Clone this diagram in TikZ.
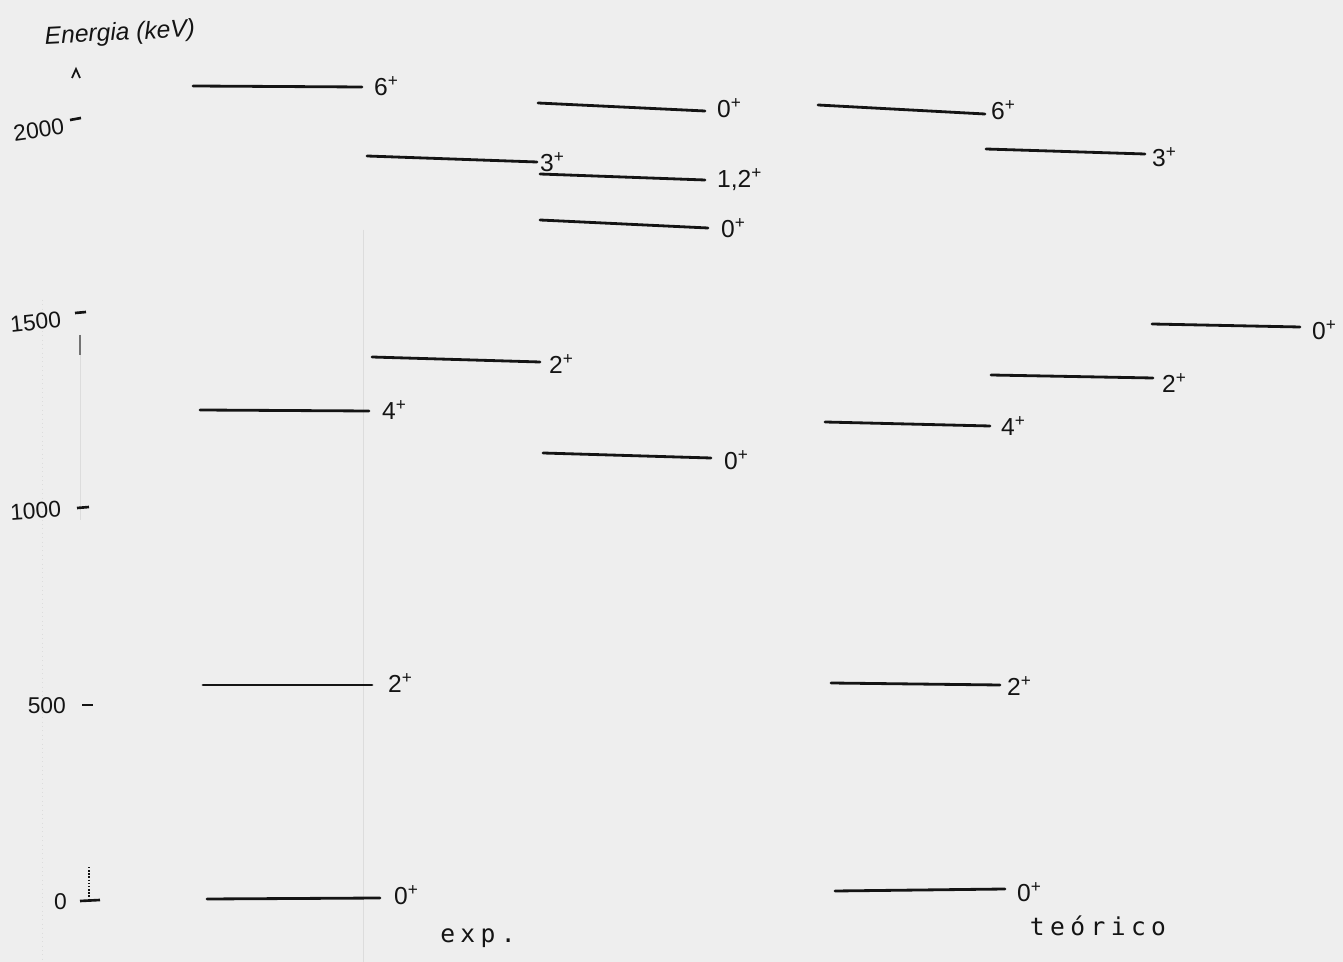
\documentclass[tikz,border=0pt]{standalone}
\usepackage{fontspec}
\setmainfont{Liberation Sans}
\newfontfamily\typefont[LetterSpace=22]{DejaVu Sans Mono}
\usepackage{xcolor}
\definecolor{paper}{RGB}{238,238,238}
\definecolor{ink}{RGB}{20,20,20}
\definecolor{fold}{RGB}{220,220,220}
\tikzset{
  lvl/.style ={draw=ink, line width=1.6pt, line cap=round},
  tck/.style ={draw=ink, line width=1.5pt},
  fnt/.style ={draw=fold, line width=0.5pt},
  spin/.style={font=\fontsize{14}{16}\selectfont, text=ink, inner sep=1pt, anchor=west},
  enr/.style ={font=\fontsize{13}{15}\selectfont, text=ink, inner sep=1pt, anchor=east},
  col/.style ={font=\fontsize{14}{16}\typefont, text=ink, inner sep=1pt},
}
\begin{document}
\begin{tikzpicture}[x=0.02cm,y=-0.02cm]
  \fill[paper] (0,0) rectangle (1343,962);
  \useasboundingbox (0,0) rectangle (1343,962);
  % faint marks of the sheet
  \draw[fnt,dotted] (42,300) -- (42,962);
  \draw[fnt] (80,335) -- (80,520);
  \draw[fnt] (363,230) -- (363,962);
  \draw[draw=black!55,line width=0.7pt] (80,335) -- (80,355);
  % energy axis
  \node[font=\fontsize{14}{16}\selectfont\itshape,text=ink,rotate=3] (title) at (120,34) {Energia (keV)};
  \draw[draw=ink,line width=1pt] (72,78) -- (76,69) -- (80,78);
  \node[enr,rotate=8] (t2000) at (66,126) {2000};
  \draw[tck] (70,120) -- (81,118);
  \node[enr,rotate=6] (t1500) at (63,319) {1500};
  \draw[tck] (75,313) -- (86,312);
  \node[enr,rotate=4] (t1000) at (63,509) {1000};
  \draw[tck] (77,508) -- (89,507);
  \node[enr] (t500) at (68,706) {500};
  \draw[tck] (82,705) -- (93,705);
  \node[enr] (t0) at (69,902) {0};
  \draw[tck] (80,901) -- (100,900);
  \draw[draw=ink,line width=0.8pt,densely dotted] (89,867) -- (89,900);
  % experimental levels
  \draw[lvl] (193,86) -- (362,87);
  \node[spin] (e6) at (372,86) {6\textsuperscript{+}};
  \draw[lvl] (200,410) -- (369,411);
  \node[spin] (e4) at (380,410) {4\textsuperscript{+}};
  \draw[lvl] (203,685) -- (372,685);
  \node[spin] (e2) at (386,683) {2\textsuperscript{+}};
  \draw[lvl] (207,899) -- (380,898);
  \node[spin] (e0) at (392,895) {0\textsuperscript{+}};
  \draw[lvl] (367,156) -- (537,162);
  \node[spin] (e3b) at (538,162) {3\textsuperscript{+}};
  \draw[lvl] (372,357) -- (540,362);
  \node[spin] (e2b) at (547,364) {2\textsuperscript{+}};
  \draw[lvl] (538,103) -- (705,111);
  \node[spin] (e0c) at (715,108) {0\textsuperscript{+}};
  \draw[lvl] (540,174) -- (705,180);
  \node[spin] (e12c) at (715,180) {1,2\textsuperscript{+}};
  \draw[lvl] (540,220) -- (708,228);
  \node[spin] (e0d) at (719,228) {0\textsuperscript{+}};
  \draw[lvl] (543,453) -- (711,458);
  \node[spin] (e0e) at (722,460) {0\textsuperscript{+}};
  \node[col] (exp) at (478,938) {exp.};
  % theoretical levels
  \draw[lvl] (818,105) -- (985,114);
  \node[spin] (h6) at (989,110) {6\textsuperscript{+}};
  \draw[lvl] (825,422) -- (990,426);
  \node[spin] (h4) at (999,426) {4\textsuperscript{+}};
  \draw[lvl] (831,683) -- (1000,685);
  \node[spin] (h2) at (1005,686) {2\textsuperscript{+}};
  \draw[lvl] (835,891) -- (1005,889);
  \node[spin] (h0) at (1015,892) {0\textsuperscript{+}};
  \draw[lvl] (986,149) -- (1145,154);
  \node[spin] (h3b) at (1150,157) {3\textsuperscript{+}};
  \draw[lvl] (991,375) -- (1153,378);
  \node[spin] (h2b) at (1160,383) {2\textsuperscript{+}};
  \draw[lvl] (1152,324) -- (1300,327);
  \node[spin] (h0c) at (1310,330) {0\textsuperscript{+}};
  \node[col] (teo) at (1098,926) {teórico};
\end{tikzpicture}
\end{document}
